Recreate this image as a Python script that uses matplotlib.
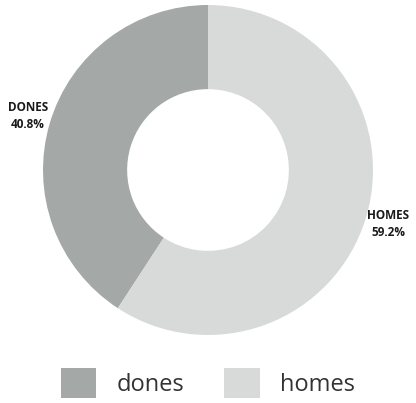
import matplotlib.pyplot as plt
import numpy as np

categories = ['dones', 'homes']
values = [40.8, 59.2]
colors = ['#a4a9a7', '#d8dada']

plt.rcParams['font.family'] = ['Open Sans', 'DejaVu Sans']

fig = plt.figure(figsize=(4.16, 4.03), dpi=100)
ax = fig.add_axes([43 / 416, 68 / 403, 330 / 416, 330 / 403])

total = sum(values)
labels = [f"{c.upper()}\n{v / total * 100:.1f}%" for c, v in zip(categories, values)]

wedges, texts = ax.pie(values, colors=colors, startangle=90, counterclock=True,
                       labels=labels, labeldistance=1.14,
                       wedgeprops=dict(width=0.51, linewidth=0),
                       textprops=dict(fontsize=8.5, fontweight='bold', color='#1a1a1a'))
for t in texts:
    t.set_horizontalalignment('center')
    t.set_linespacing(1.4)
ax.set_xlim(-1, 1)
ax.set_ylim(-1, 1)
ax.set_aspect('equal')

fig.legend(wedges, categories, loc='center', bbox_to_anchor=(0.5, 20 / 403),
           ncol=2, frameon=False, fontsize=17, handlelength=1.5, handleheight=1.6,
           columnspacing=1.7, handletextpad=0.85, labelcolor='#333333')

fig.savefig('out.png', dpi=100)
